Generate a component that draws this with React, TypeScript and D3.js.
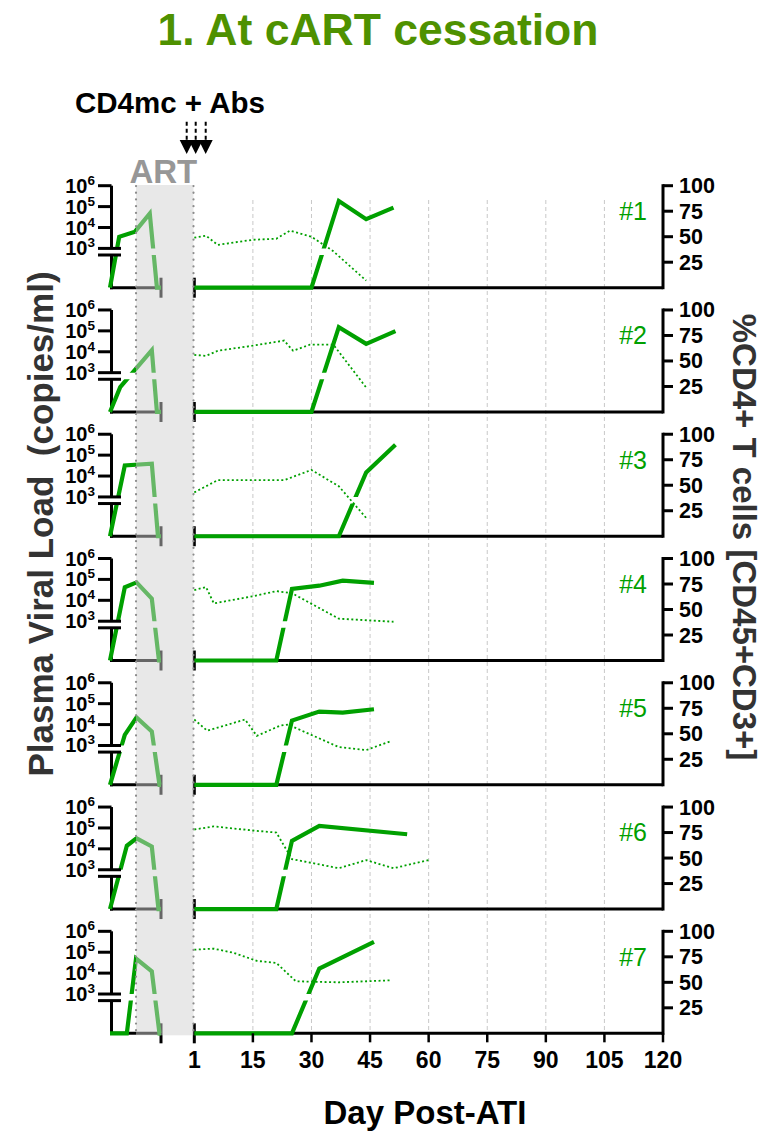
import React from "react";
import * as d3 from "d3";

// animals
const animals = ["#1", "#2", "#3", "#4", "#5", "#6", "#7"];

// pre-ATI segment (arbitrary weeks, ART starts ~5.1), viral load copies/ml (0 = undetectable)
const preWeeks = [
  [0, 1.8, 4.9, 7.8, 9.2, 10],
  [0, 2, 8.2, 9.2, 10],
  [0, 2.9, 8.2, 9.4, 10],
  [0, 2.9, 5.2, 8.2, 9.6, 10],
  [0, 2.9, 5.2, 8.2, 9.7, 10],
  [0, 3.3, 5.2, 8.2, 9.5, 10],
  [0, 3.3, 5.1, 8.2, 9.7, 10],
];
const preLoads = [
  [0, 3600, 6300, 47000, 0, 0],
  [0, 760, 12000, 0, 0],
  [0, 32000, 39000, 0, 0],
  [0, 42000, 72000, 12000, 0, 0],
  [0, 3200, 22000, 4700, 0, 0],
  [0, 14000, 32000, 13000, 0, 0],
  [0, 0, 50000, 12000, 0, 0],
];

// post-ATI viral load
const postDays = [
  [0, 30, 37, 44, 51],
  [0, 30, 37, 44, 51.5],
  [0, 37, 44, 51.5],
  [0, 21, 25, 32, 38, 46],
  [0, 21, 25, 32, 38, 46],
  [0, 21, 25, 32, 54.5],
  [0, 25, 32, 46],
];
const postLoads = [
  [0, 0, 186000, 25000, 89000],
  [0, 0, 151000, 24000, 98000],
  [0, 0, 15000, 316000],
  [0, 0, 35000, 50000, 87000, 68000],
  [0, 0, 15500, 42000, 37000, 54000],
  [0, 0, 24000, 126000, 50000],
  [0, 0, 16600, 316000],
];

// %CD4+ T cells
const cd4Days = [
  [0, 3, 6, 15, 21, 24.5, 30, 35.5, 44],
  [0, 3, 6, 15, 23, 25.3, 29.6, 35.6, 44],
  [0, 6, 23, 30, 37, 44],
  [0, 3, 5, 15, 21, 25, 37, 51],
  [0, 3.3, 13, 16, 22, 24, 37, 44, 50.5],
  [0, 5, 15, 21, 25, 37, 44, 51, 60],
  [0, 5, 10, 16, 21, 26, 37, 50.5],
];
const cd4Pct = [
  [49, 51, 42, 47, 48, 56, 50, 36, 7],
  [56, 55, 60, 65, 70, 60, 66, 66, 24],
  [43, 55, 55, 65, 49, 18],
  [69, 72, 56, 63, 68, 66, 41, 38],
  [64, 53, 64, 48, 58, 59, 37, 34, 43],
  [78, 81, 77, 75, 49, 40, 48, 40, 48],
  [82, 83, 79, 71, 69, 51, 50, 52],
];

const dayTicks = [0, 15, 30, 45, 60, 75, 90, 105, 120];
const dayTickLabels = ["1", "15", "30", "45", "60", "75", "90", "105", "120"];
const vlTicks = [1e3, 1e4, 1e5, 1e6];
const vlExponents = ["3", "4", "5", "6"];
const pctTicks = [25, 50, 75, 100];

const FONT = "'Liberation Sans', Arial, Helvetica, sans-serif";
const GREEN = "#00a000";

export default function App() {
  const W = 769, H = 1140;
  const base0 = 287.7, gap = 124.27;
  const bases = animals.map((_, i) => base0 + i * gap);
  const lastBase = bases[bases.length - 1];

  const xPre = d3.scaleLinear().domain([0, 10]).range([110, 161]);
  const xPost = d3.scaleLinear().domain([0, 120]).range([194.3, 663]);
  const yPct = d3.scaleLinear().domain([0, 100]).range([0, -102]);
  const yLog = d3.scaleLog().domain([1e3, 1e6]).range([-39.3, -102]);
  const yLow = d3.scaleLinear().domain([0, 1e3]).range([0, -32.7]);
  const yVL = (v: number) => (v >= 1e3 ? yLog(v) : yLow(v));

  const artStart = xPre(5.1);
  const artEnd = 193.5;

  const line = d3.line<[number, number]>().x(d => d[0]).y(d => d[1]);

  return (
    <svg width={W} height={H} style={{ position: "absolute", left: 0, top: 0, background: "#fff" }} fontFamily={FONT}>
      <defs>
        <clipPath id="brk">
          <rect x={0} y={-140} width={W} height={140 - 39.3} />
          <rect x={0} y={-32.7} width={W} height={60} />
        </clipPath>
      </defs>

      {/* title */}
      <text x={378} y={45} textAnchor="middle" fontSize={44.5} fontWeight="bold" fill="#4e9100">1. At cART cessation</text>
      <text x={75} y={113} fontSize={29.5} fontWeight="bold" fill="#000">CD4mc + Abs</text>

      {/* arrows */}
      {[186.7, 195.7, 205.7].map((x, i) => (
        <g key={i}>
          <line x1={x} x2={x} y1={121.7} y2={140} stroke="#000" strokeWidth={2} strokeDasharray="4,3" />
          <path d={`M${x - 7},140L${x + 7},140L${x},154Z`} fill="#000" />
        </g>
      ))}

      {/* grid */}
      {dayTicks.slice(1, -1).map(d => (
        <line key={d} x1={xPost(d)} x2={xPost(d)} y1={200} y2={lastBase} stroke="#c8c8c8" strokeWidth={1} strokeDasharray="4,3" />
      ))}

      {animals.map((name, i) => {
        const pre: [number, number][] = preWeeks[i].map((w, j) => [xPre(w), yVL(preLoads[i][j])]);
        const post: [number, number][] = postDays[i].map((d, j) => [xPost(d), yVL(postLoads[i][j])]);
        const cd4: [number, number][] = cd4Days[i].map((d, j) => [xPost(d), yPct(cd4Pct[i][j])]);
        return (
          <g key={name} transform={`translate(0,${bases[i]})`}>
            {/* left axis */}
            <line x1={111.5} x2={111.5} y1={-102} y2={-39.3} stroke="#000" strokeWidth={3} />
            <line x1={111.5} x2={111.5} y1={-32.7} y2={1.5} stroke="#000" strokeWidth={3} />
            {vlTicks.slice(1).map(v => (
              <line key={v} x1={98} x2={111.5} y1={yVL(v)} y2={yVL(v)} stroke="#000" strokeWidth={3} />
            ))}
            {vlTicks.map((v, j) => (
              <text key={v} x={95} y={yVL(v) + 7} textAnchor="end" fontSize={20} fontWeight="bold">
                10<tspan fontSize={13.5} dy={-8}>{vlExponents[j]}</tspan>
              </text>
            ))}
            {/* baselines */}
            <line x1={110} x2={161} y1={0} y2={0} stroke="#000" strokeWidth={3} />
            <line x1={161} x2={161} y1={-10} y2={10} stroke="#000" strokeWidth={3} />
            <line x1={194.3} x2={663} y1={0} y2={0} stroke="#000" strokeWidth={3} />
            <line x1={194.3} x2={194.3} y1={-10} y2={10} stroke="#000" strokeWidth={3} />
            {/* right axis */}
            <line x1={663} x2={663} y1={-103.5} y2={1.5} stroke="#000" strokeWidth={3} />
            {pctTicks.map(p => (
              <g key={p}>
                <line x1={663} x2={673} y1={yPct(p)} y2={yPct(p)} stroke="#000" strokeWidth={3} />
                <text x={679} y={yPct(p) + 7.5} fontSize={21.5} fontWeight="bold">{p}</text>
              </g>
            ))}
            <text x={647} y={-67.7} textAnchor="end" fontSize={25} fill={GREEN}>{name}</text>
            {/* data */}
            <g clipPath="url(#brk)">
              <path d={line(pre) || ""} fill="none" stroke={GREEN} strokeWidth={4.2} />
              <path d={line(post) || ""} fill="none" stroke={GREEN} strokeWidth={4.2} />
            </g>
            <path d={line(cd4) || ""} fill="none" stroke={GREEN} strokeWidth={1.8} strokeDasharray="2,2.5" />
            {/* axis break marks over data */}
            <line x1={98} x2={121} y1={-39.3} y2={-39.3} stroke="#000" strokeWidth={3} />
            <line x1={98} x2={121} y1={-32.7} y2={-32.7} stroke="#000" strokeWidth={3} />
          </g>
        );
      })}

      {/* bottom axis ticks and labels */}
      {dayTicks.slice(1).map(d => (
        <line key={d} x1={xPost(d)} x2={xPost(d)} y1={lastBase} y2={lastBase + 9} stroke="#000" strokeWidth={2.5} />
      ))}
      {dayTicks.map((d, j) => (
        <text key={d} x={xPost(d)} y={1068} textAnchor="middle" fontSize={23} fontWeight="bold">{dayTickLabels[j]}</text>
      ))}
      <text x={425} y={1124} textAnchor="middle" fontSize={33} fontWeight="bold">Day Post-ATI</text>

      {/* ART band */}
      <rect x={artStart} y={185} width={artEnd - artStart} height={lastBase + 2 - 185} fill="#d0d0d0" fillOpacity={0.49} />
      {[artStart, artEnd].map((x, i) => (
        <line key={i} x1={x} x2={x} y1={186} y2={lastBase} stroke="#8c8c8c" strokeWidth={2.2} strokeLinecap="round" strokeDasharray="0.1,6.6" />
      ))}
      <text x={163.3} y={183.3} textAnchor="middle" fontSize={33} fontWeight="bold" fill="#979797">ART</text>

      {/* axis titles */}
      <text transform="translate(53,524) rotate(-90)" textAnchor="middle" fontSize={35} fontWeight="bold" fill="#333" style={{ whiteSpace: "pre" }}>Plasma Viral Load  (copies/ml)</text>
      <text transform="translate(733,537) rotate(90)" textAnchor="middle" fontSize={33} fontWeight="bold" fill="#333">%CD4+ T cells [CD45+CD3+]</text>
    </svg>
  );
}
